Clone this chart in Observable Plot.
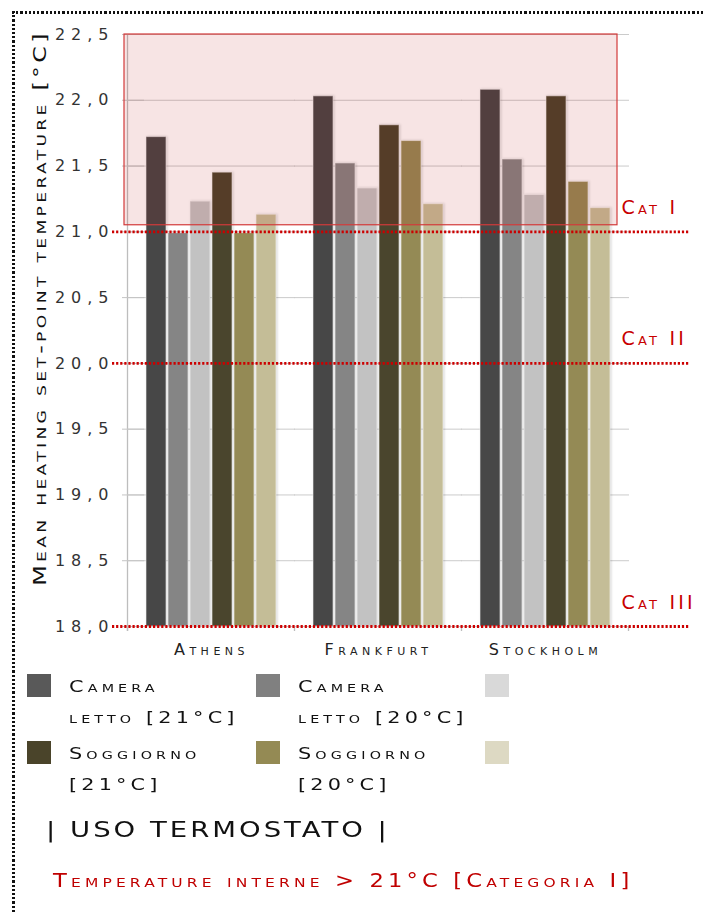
<!DOCTYPE html>
<html>
<head>
<meta charset="utf-8">
<script src="https://cdn.jsdelivr.net/npm/d3@7"></script>
<script src="https://cdn.jsdelivr.net/npm/@observablehq/plot@0.6"></script>
<style>
  html, body { margin: 0; padding: 0; background: #fff; }
  #page { position: relative; width: 703px; height: 912px; overflow: hidden; font-family: "DejaVu Sans", sans-serif; }
  #chart, #overlay { position: absolute; left: 0; top: 0; }
  #overlay { pointer-events: none; }
  .dots-top { position: absolute; left: 12px; top: 11px; width: 700px; height: 3px;
    background: repeating-linear-gradient(to right, #111 0 2.2px, transparent 2.2px 4.2px); }
  .dots-left { position: absolute; left: 12px; top: 11px; width: 3px; height: 910px;
    background: repeating-linear-gradient(to bottom, #111 0 2.2px, transparent 2.2px 4.2px); }
  svg g[aria-label="y-axis tick label"] text { letter-spacing: 6px; fill: #333; }
  svg g[aria-label="fx-axis tick label"] text { letter-spacing: 4.5px; fill: #222; font-variant: small-caps; }
  svg g[aria-label="bar"] rect { filter: drop-shadow(1.5px 0 1px rgba(0,0,0,0.18)); }
  svg .cat text { letter-spacing: 3.2px; }
  #ytitle { position: absolute; left: 40px; top: 308px; font-size: 18px; line-height: 18px; letter-spacing: 2.5px; font-variant: small-caps; color: #111; white-space: nowrap;
    transform: translate(-50%, -50%) rotate(-90deg) scaleX(1.32); }
  .legend-item { position: absolute; display: flex; align-items: flex-start; }
  .swatch { width: 24px; height: 23px; margin-top: 3px; }
  .legend-text { margin-left: 18px; font-size: 16px; line-height: 31px; letter-spacing: 3.2px; font-variant: small-caps; color: #111; white-space: nowrap; transform: scaleX(1.3); transform-origin: 0 0; }
  #title { position: absolute; left: 46px; top: 819px; font-size: 22px; line-height: 22px; letter-spacing: 2.4px; color: #111; white-space: nowrap; transform: scaleX(1.25); transform-origin: 0 0; }
  #caption { position: absolute; left: 53px; top: 871px; font-size: 19px; line-height: 19px; letter-spacing: 3.5px; color: #c00000; font-variant: small-caps; white-space: nowrap; transform: scaleX(1.19); transform-origin: 0 0; }
</style>
</head>
<body>
<div id="page">
  <div id="chart"></div>
  <div id="overlay"></div>
  <div id="ytitle"></div>
  <div class="dots-top"></div>
  <div class="dots-left"></div>
  <div id="legend"></div>
  <div id="title">| USO TERMOSTATO |</div>
  <div id="caption">Temperature interne &gt; 21°C [Categoria I]</div>
</div>
<script>
// ---------- data ----------
const cities = ["Athens", "Frankfurt", "Stockholm"];
const seriesKeys = ["cameraLetto21", "cameraLetto20", "serie3", "soggiorno21", "soggiorno20", "serie6"];
const cameraLetto21 = [21.72, 22.03, 22.08];
const cameraLetto20 = [20.99, 21.52, 21.55];
const serie3        = [21.23, 21.33, 21.28];
const soggiorno21   = [21.45, 21.81, 22.03];
const soggiorno20   = [20.99, 21.69, 21.38];
const serie6        = [21.13, 21.21, 21.18];
const seriesValues = [cameraLetto21, cameraLetto20, serie3, soggiorno21, soggiorno20, serie6];

const legendLabels = [["Camera", "letto [21°C]"], ["Camera", "letto [20°C]"], [], ["Soggiorno", "[21°C]"], ["Soggiorno", "[20°C]"], []];
const barColors    = ["#474747", "#858585", "#c2c2c2", "#4a452d", "#948a55", "#c4bd97"];
const legendColors = ["#595959", "#808080", "#d9d9d9", "#4a442a", "#948a54", "#ddd9c3"];

const yTicks = [18, 18.5, 19, 19.5, 20, 20.5, 21, 21.5, 22, 22.5];
const yTickLabels = ["18,0", "18,5", "19,0", "19,5", "20,0", "20,5", "21,0", "21,5", "22,0", "22,5"];
const baseline = 18;
const yMax = 22.5;

const catValues = [21, 20, 18];
const catLabels = ["Cat I", "Cat II", "Cat III"];
const highlightLow = 21.05;   // lower edge of the "> 21°C" band
const yTitle = "Mean heating set-point temperature [°C]";

// ---------- tables ----------
const rows = [];
seriesKeys.forEach((s, j) => cities.forEach((c, i) => rows.push({city: c, series: s, value: seriesValues[j][i]})));
const cats = catValues.map((v, i) => ({value: v, label: catLabels[i]}));

// shared frame
const frame = {width: 703, height: 660, marginTop: 34, marginBottom: 34, marginLeft: 144, marginRight: 91};
const font = {fontFamily: "DejaVu Sans, sans-serif", fontSize: "16px", background: "transparent", overflow: "visible"};

// ---------- bars (faceted by city) ----------
const chart = Plot.plot({
  ...frame,
  style: font,
  fx: {domain: cities, paddingInner: 0.2, paddingOuter: 0, label: null},
  x: {domain: seriesKeys, paddingInner: 0.08, paddingOuter: 0, axis: null},
  y: {domain: [baseline, yMax]},
  color: {domain: seriesKeys, range: barColors},
  marks: [
    Plot.gridY(yTicks, {stroke: "#cbcbcb", strokeOpacity: 1, insetLeft: -17, insetRight: -17}),
    Plot.barY(rows, {fx: "city", x: "series", y1: baseline, y2: "value", fill: "series", stroke: "#ffffff", strokeOpacity: 0.55, strokeWidth: 1}),
    Plot.axisY({ticks: yTicks, tickFormat: d => yTickLabels[yTicks.indexOf(d)], tickSize: 22, tickPadding: 8, stroke: "#c4c4c4", label: null, fontSize: 16}),
    Plot.axisFx({anchor: "bottom", tickSize: 0, tickPadding: 17, label: null, fontSize: 16})
  ]
});
document.getElementById("chart").append(chart);

// axis line and category boundary ticks derived from the scales
const fxScale = chart.scale("fx");
const yScale = chart.scale("y");
const bw = fxScale.bandwidth;
const step = fxScale.step ?? bw / (1 - 0.2);
const half = (step - bw) / 2;
const bounds = cities.map(c => fxScale.apply(c) - half).concat(fxScale.apply(cities[cities.length - 1]) + bw + half);
const y0 = yScale.apply(baseline);
const deco = d3.select(chart).insert("g", ":first-child").attr("stroke", "#bdbdbd").attr("stroke-width", 1.3);
deco.append("line").attr("x1", bounds[0]).attr("x2", bounds[0]).attr("y1", yScale.apply(yMax)).attr("y2", y0 + 5);
bounds.forEach(b => deco.append("line").attr("x1", b).attr("x2", b).attr("y1", y0).attr("y2", y0 + 5));

// ---------- overlay: comfort band and category thresholds ----------
const overlay = Plot.plot({
  ...frame,
  style: font,
  y: {domain: [baseline, yMax], axis: null},
  marks: [
    Plot.rect([{y1: highlightLow, y2: yMax}], {y1: "y1", y2: "y2", fill: "rgb(180,0,0)", fillOpacity: 0.106, stroke: "#d23a3a", strokeWidth: 1.2, insetLeft: -20, insetRight: -5}),
    Plot.ruleY(catValues, {stroke: "#cc0000", strokeWidth: 2.8, strokeDasharray: "2.2,1.9", insetLeft: -32, insetRight: -78}),
    Plot.text(cats, {y: "value", text: "label", frameAnchor: "right", textAnchor: "start", dx: 9, dy: -24, fill: "#c80000", fontSize: 19, fontVariant: "small-caps", className: "cat"})
  ]
});
document.getElementById("overlay").append(overlay);

// y-axis title
document.getElementById("ytitle").textContent = yTitle;

// ---------- legend ----------
const legend = document.getElementById("legend");
const colX = [27, 256, 485];
const rowY = [671, 738];
seriesKeys.forEach((s, j) => {
  const item = document.createElement("div");
  item.className = "legend-item";
  item.style.left = colX[j % 3] + "px";
  item.style.top = rowY[Math.floor(j / 3)] + "px";
  const sw = document.createElement("div");
  sw.className = "swatch";
  sw.style.background = legendColors[j];
  item.append(sw);
  const tx = document.createElement("div");
  tx.className = "legend-text";
  tx.innerHTML = legendLabels[j].join("<br>");
  item.append(tx);
  legend.append(item);
});
</script>
</body>
</html>
